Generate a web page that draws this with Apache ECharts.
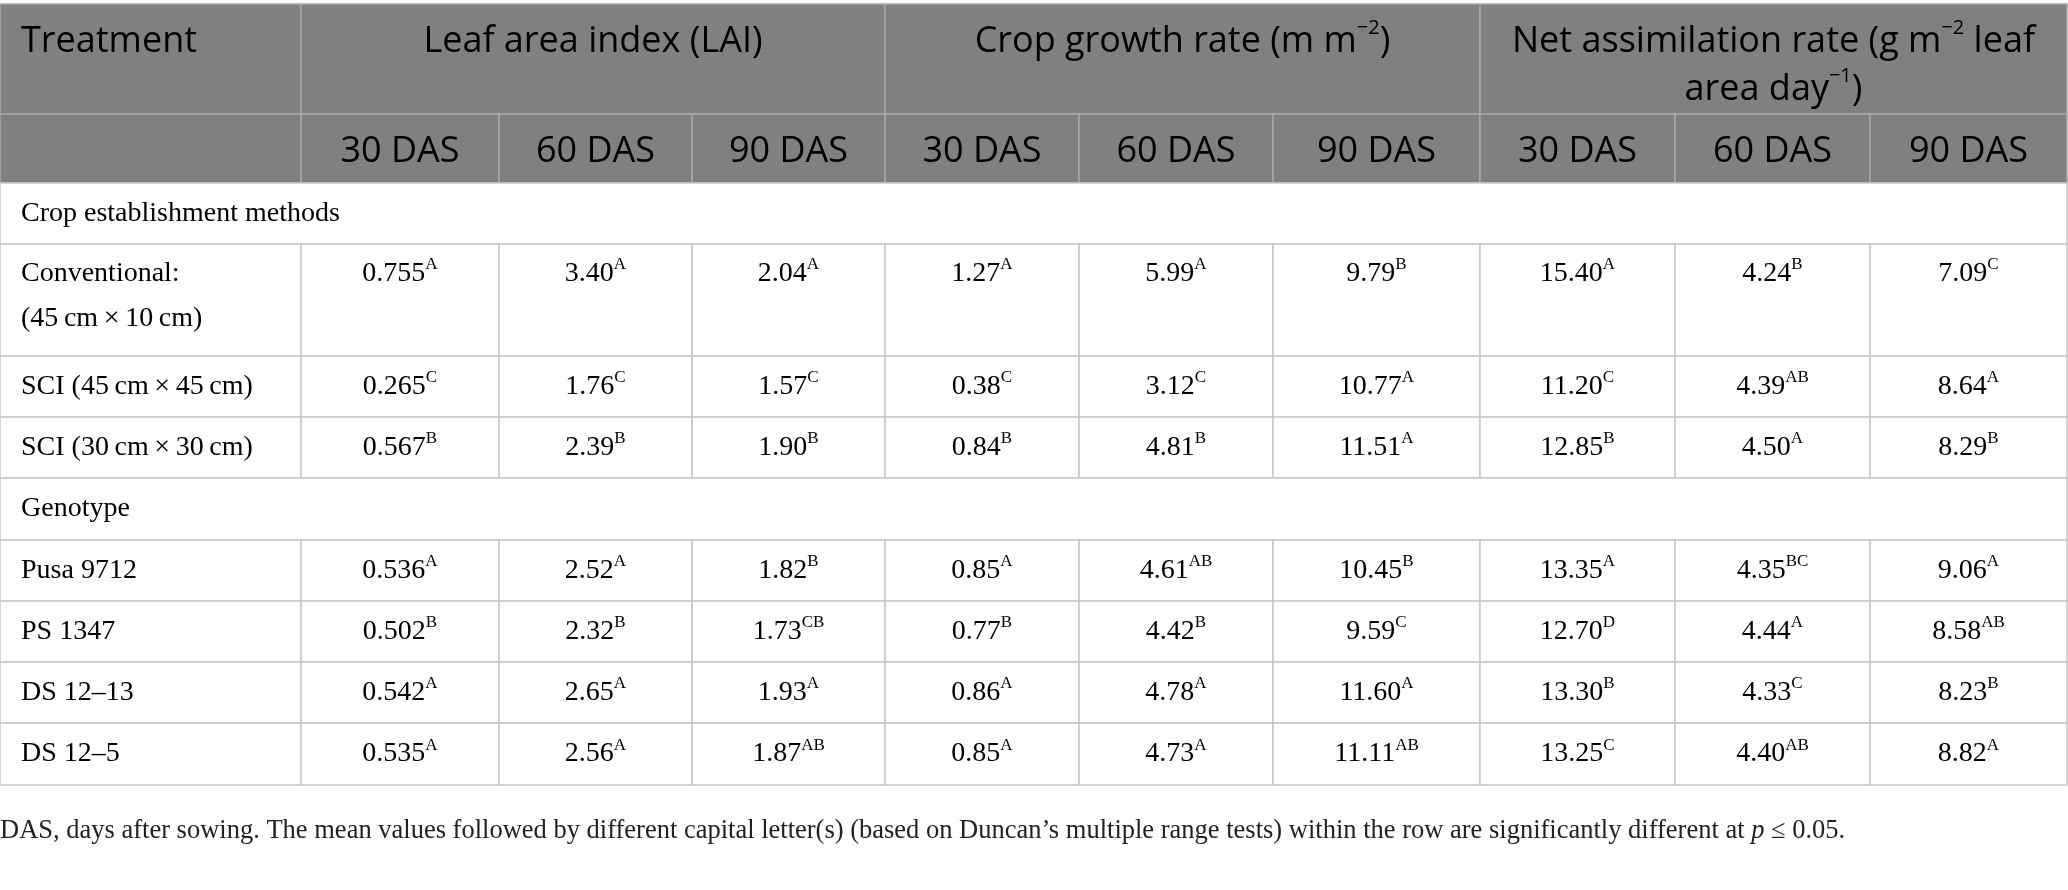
<!DOCTYPE html>
<html>
<head>
<meta charset="utf-8">
<script src="https://cdn.jsdelivr.net/npm/echarts@6.0.0/dist/echarts.min.js"></script>
<style>
  html, body { margin: 0; padding: 0; background: #fff; }
  #chart { width: 2068px; height: 890px; }
</style>
</head>
<body>
<div id="chart"></div>
<script>
// table content
const stages = ['30 DAS', '60 DAS', '90 DAS'];
const groupNames = ['Crop establishment methods', 'Genotype'];
const methodNames = ['Conventional:\n(45\u2009cm\u2009×\u200910\u2009cm)', 'SCI (45\u2009cm\u2009×\u200945\u2009cm)', 'SCI (30\u2009cm\u2009×\u200930\u2009cm)'];
const genotypeNames = ['Pusa 9712', 'PS 1347', 'DS 12–13', 'DS 12–5'];

// LAI 30/60/90, CGR 30/60/90, NAR 30/60/90
const methodValues = [
  ['0.755', '3.40', '2.04', '1.27', '5.99', '9.79', '15.40', '4.24', '7.09'],
  ['0.265', '1.76', '1.57', '0.38', '3.12', '10.77', '11.20', '4.39', '8.64'],
  ['0.567', '2.39', '1.90', '0.84', '4.81', '11.51', '12.85', '4.50', '8.29']
];
const methodLetters = [
  ['A', 'A', 'A', 'A', 'A', 'B', 'A', 'B', 'C'],
  ['C', 'C', 'C', 'C', 'C', 'A', 'C', 'AB', 'A'],
  ['B', 'B', 'B', 'B', 'B', 'A', 'B', 'A', 'B']
];
const genotypeValues = [
  ['0.536', '2.52', '1.82', '0.85', '4.61', '10.45', '13.35', '4.35', '9.06'],
  ['0.502', '2.32', '1.73', '0.77', '4.42', '9.59', '12.70', '4.44', '8.58'],
  ['0.542', '2.65', '1.93', '0.86', '4.78', '11.60', '13.30', '4.33', '8.23'],
  ['0.535', '2.56', '1.87', '0.85', '4.73', '11.11', '13.25', '4.40', '8.82']
];
const genotypeLetters = [
  ['A', 'A', 'B', 'A', 'AB', 'B', 'A', 'BC', 'A'],
  ['B', 'B', 'CB', 'B', 'B', 'C', 'D', 'A', 'AB'],
  ['A', 'A', 'A', 'A', 'A', 'A', 'B', 'C', 'B'],
  ['A', 'A', 'AB', 'A', 'A', 'AB', 'C', 'AB', 'A']
];

// column / row edges of the table grid (axis units = px)
const colEdges = [0, 301, 499, 692, 885, 1079, 1273, 1480, 1675, 1870, 2067];
const rowEdges = [4, 114, 183, 244, 356, 417, 478, 540, 601, 662, 723, 785];

const headFill = '#808080';
const headLine = '#a8a8a8';
const bodyLine = '#c6c6c6';

const richStyles = {
  h: { fontFamily: 'Open Sans', fontSize: 36, color: '#fff', lineHeight: 48 },
  hs: { fontFamily: 'Open Sans', fontSize: 20, color: '#fff', lineHeight: 30, verticalAlign: 'top' },
  v: { fontFamily: 'Liberation Serif', fontSize: 28, color: '#222', lineHeight: 34 },
  s: { fontFamily: 'Liberation Serif', fontSize: 17, color: '#222', lineHeight: 22, verticalAlign: 'top' },
  t: { fontFamily: 'Liberation Serif', fontSize: 28, color: '#222', lineHeight: 45 }
};

const paramTitles = [
  '{h|Leaf area index (LAI)}',
  '{h|Crop growth rate (m m}{hs|−2}{h|)}',
  '{h|Net assimilation rate (g m}{hs|−2}{h| leaf}\n{h|area day}{hs|−1}{h|)}'
];

// build cells
let cells = [];
function addCell(c0, c1, r0, r1, text, opts) {
  cells.push(Object.assign({
    value: [colEdges[c0], colEdges[c1], rowEdges[r0], rowEdges[r1]],
    text: text, head: false, align: 'center', top: false
  }, opts || {}));
}

// header row 1
addCell(0, 1, 0, 1, '{h|Treatment}', { head: true, align: 'left', top: true });
paramTitles.forEach((t, i) => addCell(1 + i * 3, 4 + i * 3, 0, 1, t, { head: true, top: true }));
// header row 2
addCell(0, 1, 1, 2, '', { head: true });
for (let p = 0; p < 3; p++) {
  stages.forEach((s, i) => addCell(1 + p * 3 + i, 2 + p * 3 + i, 1, 2, '{h|' + s + '}', { head: true }));
}

function addBlock(startRow, groupName, names, values, letters) {
  addCell(0, 10, startRow, startRow + 1, '{v|' + groupName + '}', { align: 'left' });
  names.forEach((name, r) => {
    const row = startRow + 1 + r;
    const twoLine = name.indexOf('\n') >= 0;
    const label = name.split('\n').map(l => '{t|' + l + '}').join('\n');
    addCell(0, 1, row, row + 1, twoLine ? label : '{v|' + name + '}', { align: 'left', top: twoLine });
    values[r].forEach((v, c) => {
      addCell(1 + c, 2 + c, row, row + 1, '{v|' + v + '}{s|' + letters[r][c] + '}', { top: twoLine });
    });
  });
}
addBlock(2, groupNames[0], methodNames, methodValues, methodLetters);
addBlock(6, groupNames[1], genotypeNames, genotypeValues, genotypeLetters);

function renderCell(params, api) {
  const cell = cells[params.dataIndex];
  const p0 = api.coord([api.value(0), api.value(2)]);
  const p1 = api.coord([api.value(1), api.value(3)]);
  const w = p1[0] - p0[0];
  const h = p1[1] - p0[1];
  let tx = cell.align === 'left' ? p0[0] + 21 : p0[0] + w / 2;
  let ty, va;
  if (cell.head && cell.top) { ty = p0[1] + 14; va = 'top'; }
  else if (cell.head) { ty = p0[1] + h / 2 + 3; va = 'middle'; }
  else if (cell.top) { ty = p0[1] + 7; va = 'top'; }
  else { ty = p0[1] + h / 2; va = 'middle'; }
  if (cell.top && !cell.head && cell.text.indexOf('{t|') < 0) {
    // numbers in the two-line row sit on the first text line
    ty = p0[1] + 7 + (45 - 34) / 2;
  }
  return {
    type: 'group',
    children: [
      {
        type: 'rect',
        shape: { x: p0[0], y: p0[1], width: w, height: h },
        style: { fill: cell.head ? headFill : '#fff', stroke: cell.head ? headLine : bodyLine, lineWidth: 1.5 }
      },
      {
        type: 'text',
        x: tx, y: ty,
        style: { text: cell.text, rich: richStyles, align: cell.align, verticalAlign: va }
      }
    ]
  };
}

const footnote = '{f|DAS, days after sowing. The mean values followed by different capital letter(s) (based on Duncan’s multiple range tests) within the row are significantly different at }{fi|p}{f| ≤ 0.05.}';

const chart = echarts.init(document.getElementById('chart'));
chart.setOption({
  animation: false,
  backgroundColor: '#fff',
  title: {
    text: footnote,
    left: 0,
    top: 818,
    padding: 0,
    textStyle: {
      fontWeight: 'normal',
      rich: {
        f: { fontFamily: 'Liberation Serif', fontSize: 26.5, fontWeight: 'normal', color: '#222' },
        fi: { fontFamily: 'Liberation Serif', fontSize: 26.5, fontWeight: 'normal', fontStyle: 'italic', color: '#222' }
      }
    }
  },
  grid: { left: 0, right: 0, top: 0, bottom: 0 },
  xAxis: { type: 'value', min: 0, max: 2068, show: false },
  yAxis: { type: 'value', min: 0, max: 890, inverse: true, show: false },
  series: [{
    type: 'custom',
    renderItem: renderCell,
    clip: false,
    data: cells.map(c => c.value)
  }]
});
</script>
</body>
</html>
